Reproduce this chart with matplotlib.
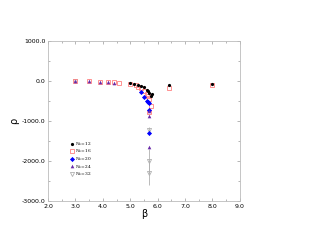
import matplotlib
matplotlib.use("Agg")
import matplotlib.pyplot as plt
from matplotlib.ticker import MultipleLocator, FormatStrFormatter

# N_s = 12
b12 = [5.0, 5.15, 5.3, 5.4, 5.5, 5.6, 5.65, 5.7, 5.75, 5.8, 6.4, 8.0]
r12 = [-50, -70, -100, -130, -160, -220, -250, -300, -380, -320, -110, -70]
# N_s = 16
b16 = [3.0, 3.5, 3.9, 4.2, 4.4, 4.6, 5.0, 5.2, 5.3, 5.4, 5.5, 5.6, 5.65, 5.7, 5.75, 5.7, 6.4, 8.0]
r16 = [0, -10, -20, -30, -35, -40, -70, -100, -140, -180, -240, -330, -380, -450, -620, -780, -170, -90]
# N_s = 20
b20 = [5.4, 5.5, 5.6, 5.65, 5.7, 5.7, 5.7]
r20 = [-275, -390, -490, -520, -560, -720, -1300]
# N_s = 24
b24 = [3.0, 3.5, 3.9, 4.2, 4.4, 5.7, 5.7, 5.7]
r24 = [0, -10, -20, -30, -40, -750, -880, -1640]
# N_s = 32
b32 = [3.0, 5.7, 5.7, 5.7]
r32 = [0, -1220, -2000, -2300]
e32 = [0, 60, 300, 300]

fig = plt.figure(figsize=(3.14, 2.43), dpi=100)
ax = fig.add_axes([0.153, 0.173, 0.611, 0.658])

ms = 2.6
h32 = ax.errorbar(b32, r32, yerr=e32, fmt='v', mfc='none', mec='#b0b0b0', ecolor='#b0b0b0',
                  ms=ms + 0.4, mew=0.6, elinewidth=0.6, capsize=0, zorder=2)
h16, = ax.plot(b16, r16, 's', mfc='none', mec='#ff8080', ms=ms + 0.3, mew=0.6, zorder=3)
h20, = ax.plot(b20, r20, 'D', color='#0000ff', ms=ms, mew=0, zorder=4)
h24, = ax.plot(b24, r24, '^', color='#6a2aa8', ms=ms, mew=0, zorder=5)
h12, = ax.plot(b12, r12, 'o', color='black', ms=ms - 0.3, mew=0, zorder=6)

ax.set_xlim(2, 9)
ax.set_ylim(-3000, 1000)
ax.xaxis.set_major_locator(MultipleLocator(1))
ax.xaxis.set_minor_locator(MultipleLocator(0.5))
ax.yaxis.set_major_locator(MultipleLocator(1000))
ax.yaxis.set_minor_locator(MultipleLocator(500))
ax.xaxis.set_major_formatter(FormatStrFormatter('%.1f'))
ax.yaxis.set_major_formatter(FormatStrFormatter('%.1f'))
ax.tick_params(which='both', direction='in', top=True, right=True, labelsize=4.5,
               color='#999999', pad=2)
ax.tick_params(which='major', length=2.5, width=0.5)
ax.tick_params(which='minor', length=1.5, width=0.5)
for s in ax.spines.values():
    s.set_color('#bbbbbb')
    s.set_linewidth(0.6)

ax.set_xlabel('β', fontsize=7, labelpad=0)
ax.set_ylabel('ρ', fontsize=7, labelpad=2, rotation=90)

handles = [h12, h16, h20, h24, h32[0]]
labels = [r'N$_s$=12', r'N$_s$=16', r'N$_s$=20', r'N$_s$=24', r'N$_s$=32']
leg = ax.legend(handles, labels, loc='upper left',
                bbox_to_anchor=(0.1, 0.40), frameon=False,
                prop={'family': 'DejaVu Serif', 'size': 3.2}, handlelength=0.8,
                handletextpad=0.2, labelspacing=0.0, borderpad=0.2)

fig.savefig('out.png', dpi=100)
